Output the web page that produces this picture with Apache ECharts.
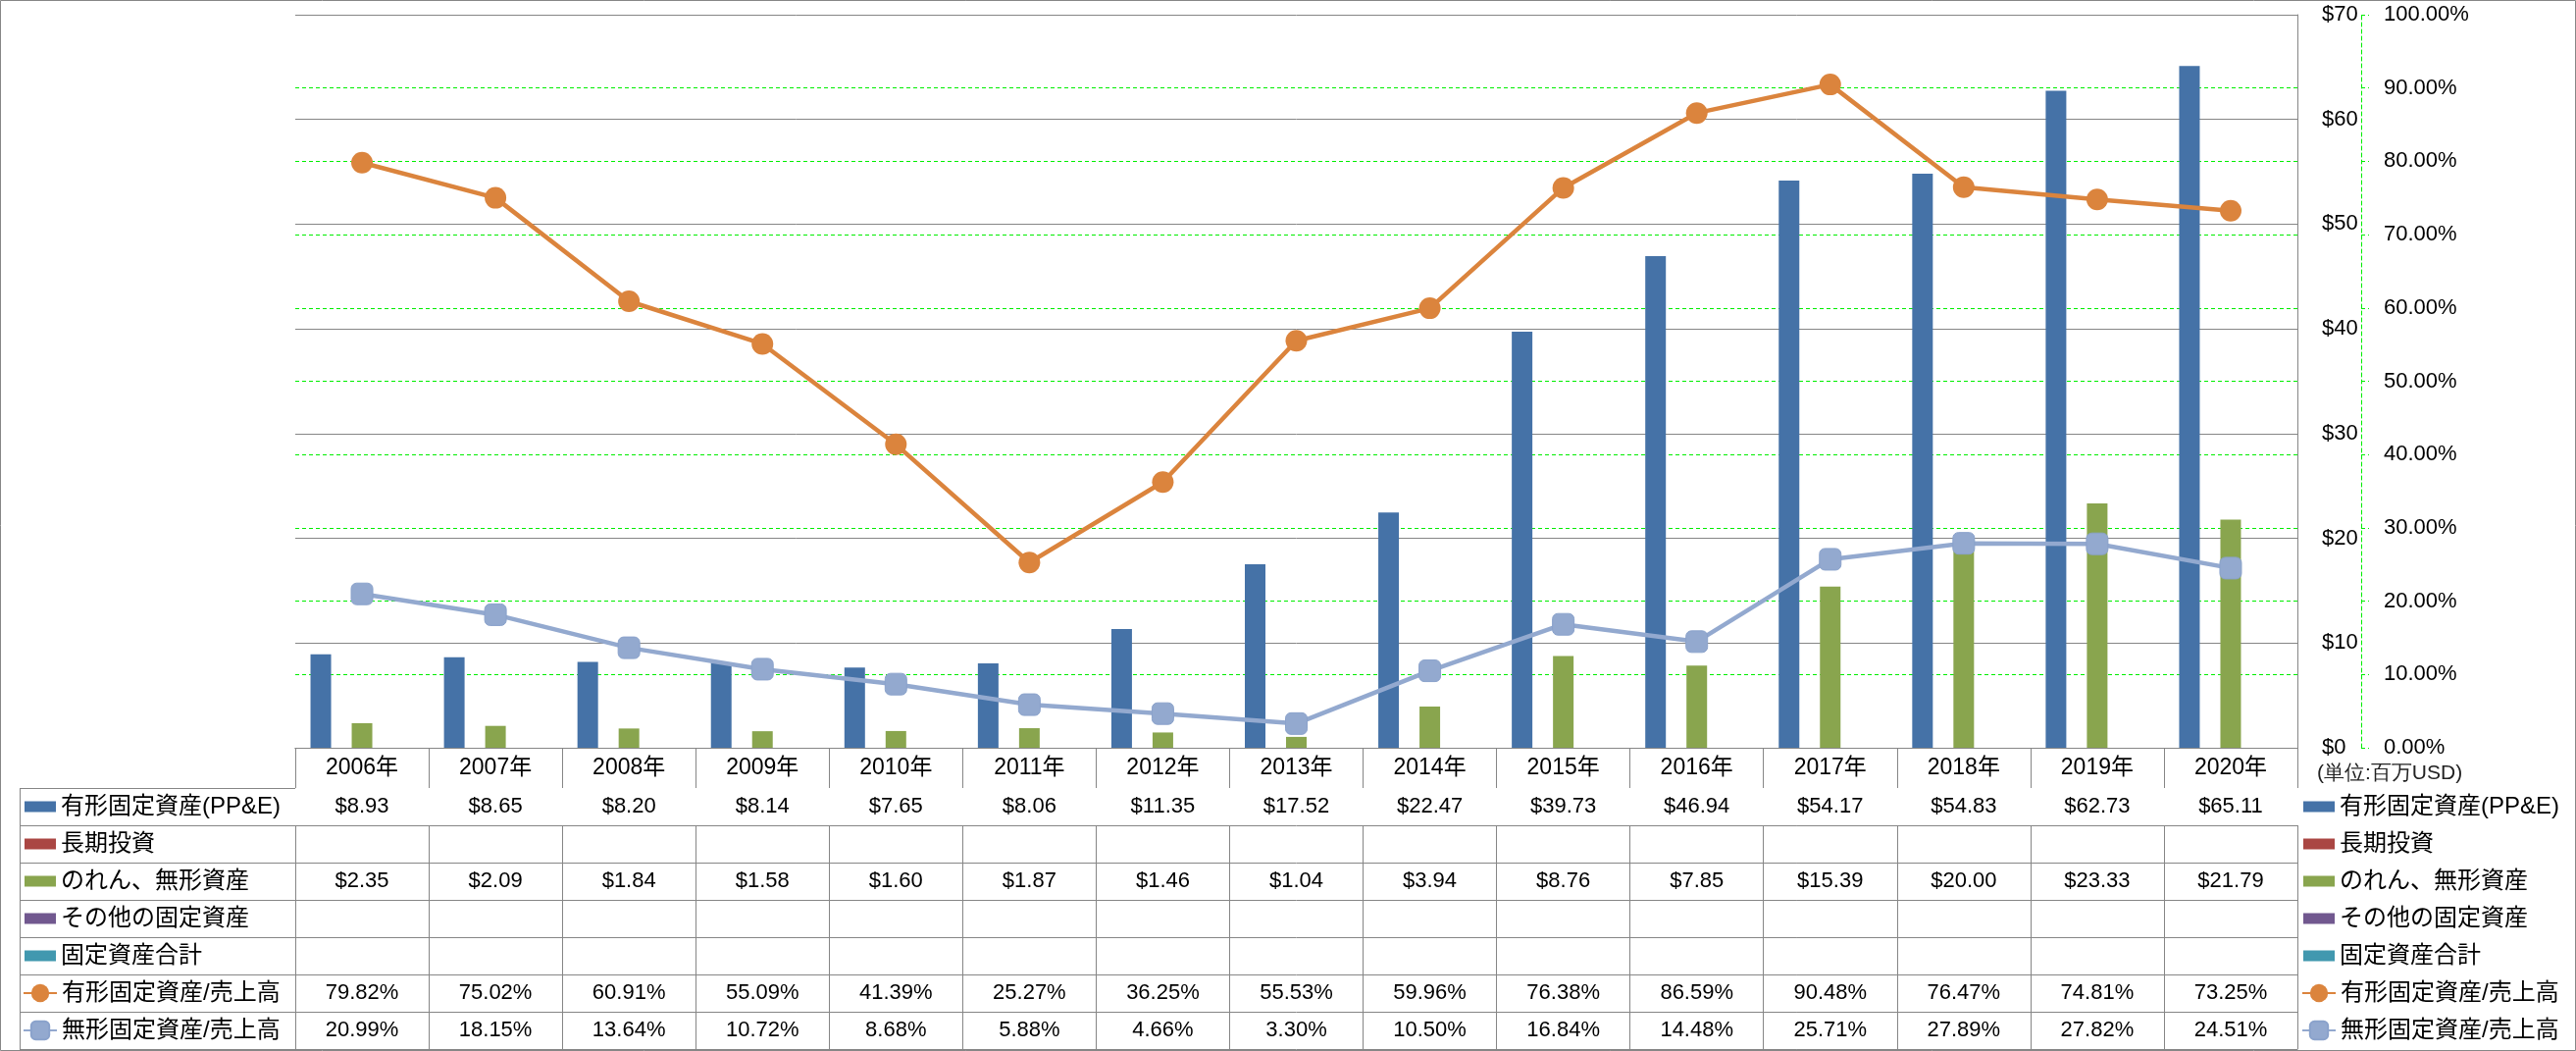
<!DOCTYPE html>
<html><head><meta charset="utf-8">
<script src="https://cdn.jsdelivr.net/npm/echarts@6/dist/echarts.min.js"></script>
<style>html,body{margin:0;padding:0;background:#fff}#c{width:2626px;height:1071px}</style>
</head><body><div id="c"></div>
<script>
// ---- data ----
const years = ['2006年','2007年','2008年','2009年','2010年','2011年','2012年','2013年','2014年','2015年','2016年','2017年','2018年','2019年','2020年'];
const ppe = [8.93, 8.65, 8.20, 8.14, 7.65, 8.06, 11.35, 17.52, 22.47, 39.73, 46.94, 54.17, 54.83, 62.73, 65.11];
const longInvest = [];
const intangible = [2.35, 2.09, 1.84, 1.58, 1.60, 1.87, 1.46, 1.04, 3.94, 8.76, 7.85, 15.39, 20.00, 23.33, 21.79];
const otherFixed = [];
const totalFixed = [];
const ppeRatio = [79.82, 75.02, 60.91, 55.09, 41.39, 25.27, 36.25, 55.53, 59.96, 76.38, 86.59, 90.48, 76.47, 74.81, 73.25];
const intangRatio = [20.99, 18.15, 13.64, 10.72, 8.68, 5.88, 4.66, 3.30, 10.50, 16.84, 14.48, 25.71, 27.89, 27.82, 24.51];
const seriesNames = ['有形固定資産(PP&E)','長期投資','のれん、無形資産','その他の固定資産','固定資産合計','有形固定資産/売上高','無形固定資産/売上高'];
const dollarTicks = ['$0','$10','$20','$30','$40','$50','$60','$70'];
const pctTicks = ['0.00%','10.00%','20.00%','30.00%','40.00%','50.00%','60.00%','70.00%','80.00%','90.00%','100.00%'];
const unitNote = '(単位:百万USD)';

// ---- layout / style ----
const W = 2626, H = 1071;
const plotL = 301, plotR = 2342, plotT = 15, plotB = 762;
const headerH = 41, rowH = 38, tableL = 20;
const GRAY = '#868686';
const FONT = "'Liberation Sans','Noto Sans CJK JP',sans-serif";
const colors = ['#4572A7','#AA4643','#89A54E','#71588F','#4198AF','#DB843D','#93A9CF'];

const money = a => years.map((_, i) => a[i] == null ? '' : '$' + a[i].toFixed(2));
const pct = a => years.map((_, i) => a[i] == null ? '' : a[i].toFixed(2) + '%');
const rows = [money(ppe), money(longInvest), money(intangible), money(otherFixed), money(totalFixed), pct(ppeRatio), pct(intangRatio)];

const baseX = {
  type: 'category', data: years, position: 'bottom', boundaryGap: true,
  axisLine: { show: true, lineStyle: { color: GRAY, width: 1 } },
  splitLine: { show: false }
};
const xAxes = [Object.assign({}, baseX, {
  axisTick: { show: true, length: headerH, interval: 0, lineStyle: { color: GRAY } },
  axisLabel: { interval: 0, margin: headerH / 2, verticalAlign: 'middle', fontSize: 23, color: '#000', fontFamily: FONT }
})];
rows.forEach((r, i) => {
  xAxes.push(Object.assign({}, baseX, {
    offset: headerH + i * rowH,
    axisTick: { show: true, length: rowH, interval: 0, lineStyle: { color: GRAY } },
    axisLabel: { interval: 0, margin: rowH / 2, verticalAlign: 'middle', fontSize: 22, color: '#000', fontFamily: FONT,
      formatter: (v, idx) => r[idx] }
  }));
});
xAxes.push(Object.assign({}, baseX, { offset: headerH + rows.length * rowH, axisTick: { show: false }, axisLabel: { show: false } }));

const barData = [ppe, longInvest, intangible, otherFixed, totalFixed];
const series = barData.map((d, i) => ({
  type: 'bar', name: seriesNames[i], data: years.map((_, j) => d[j] == null ? null : d[j]),
  xAxisIndex: 0, yAxisIndex: 0, barWidth: 21, barGap: '0%',
  itemStyle: { color: colors[i] }
}));
series.push({
  type: 'line', name: seriesNames[5], data: ppeRatio, xAxisIndex: 0, yAxisIndex: 1,
  symbol: 'circle', symbolSize: 22, lineStyle: { color: colors[5], width: 4.5 },
  itemStyle: { color: colors[5] }, z: 5
});
series.push({
  type: 'line', name: seriesNames[6], data: intangRatio, xAxisIndex: 0, yAxisIndex: 1,
  symbol: 'roundRect', symbolSize: 22, lineStyle: { color: colors[6], width: 4.5 },
  itemStyle: { color: colors[6], borderColor: '#8aa2cb', borderWidth: 1 }, z: 5
});

const legendText = { fontSize: 24, lineHeight: rowH, color: '#000', fontFamily: FONT };
function legendPair(x) {
  return [
    { orient: 'vertical', left: x + 2, top: plotB + headerH, padding: 0, itemGap: 0, itemWidth: 32, itemHeight: 11,
      icon: 'rect', selectedMode: false, data: seriesNames.slice(0, 5), textStyle: legendText },
    { orient: 'vertical', left: x, top: plotB + headerH + 5 * rowH, padding: 0, itemGap: 0, itemWidth: 34, itemHeight: 23,
      selectedMode: false, data: seriesNames.slice(5), textStyle: legendText }
  ];
}

const graphics = [
  { type: 'rect', shape: { x: 0.5, y: 0.5, width: W - 1, height: H - 1 }, style: { fill: 'none', stroke: GRAY, lineWidth: 1 }, silent: true },
  { type: 'line', shape: { x1: tableL + 0.5, y1: plotB + headerH, x2: tableL + 0.5, y2: plotB + headerH + 7 * rowH }, style: { stroke: GRAY, lineWidth: 1 }, silent: true }
];
for (let i = 0; i <= 7; i++) {
  const y = plotB + headerH + i * rowH + 0.5;
  graphics.push({ type: 'line', shape: { x1: tableL, y1: y, x2: plotL, y2: y }, style: { stroke: GRAY, lineWidth: 1 }, silent: true });
}
graphics.push({ type: 'text', left: 2362, top: plotB + 16, style: { text: unitNote, fontSize: 21, fill: '#222', font: '21px ' + FONT }, silent: true });

const option = {
  animation: false,
  backgroundColor: '#fff',
  textStyle: { fontFamily: FONT },
  grid: { left: plotL, right: W - plotR, top: plotT, bottom: H - plotB, containLabel: false, outerBoundsMode: 'none' },
  legend: legendPair(tableL + 3).concat(legendPair(2346)),
  xAxis: xAxes,
  yAxis: [
    { type: 'value', position: 'right', min: 0, max: 70, interval: 10,
      axisLine: { show: true, lineStyle: { color: GRAY, width: 1 } }, axisTick: { show: false },
      axisLabel: { margin: 25, fontSize: 22, color: '#000', fontFamily: FONT, formatter: v => dollarTicks[Math.round(v / 10)] },
      splitLine: { show: true, lineStyle: { color: GRAY, width: 1 } } },
    { type: 'value', position: 'right', offset: 65, min: 0, max: 100, interval: 10,
      axisLine: { show: true, lineStyle: { color: '#00ee00', width: 1, type: [4, 3] } },
      axisTick: { show: true, length: 8, lineStyle: { color: '#00ee00', width: 1, type: [4, 3] } },
      axisLabel: { margin: 23, fontSize: 22, color: '#000', fontFamily: FONT, formatter: v => pctTicks[Math.round(v / 10)] },
      splitLine: { show: true, showMinLine: false, showMaxLine: false, lineStyle: { color: '#00ee00', width: 1, type: [4, 3] } } }
  ],
  series: series,
  graphic: graphics
};
echarts.init(document.getElementById('c')).setOption(option);
</script>
</body></html>
